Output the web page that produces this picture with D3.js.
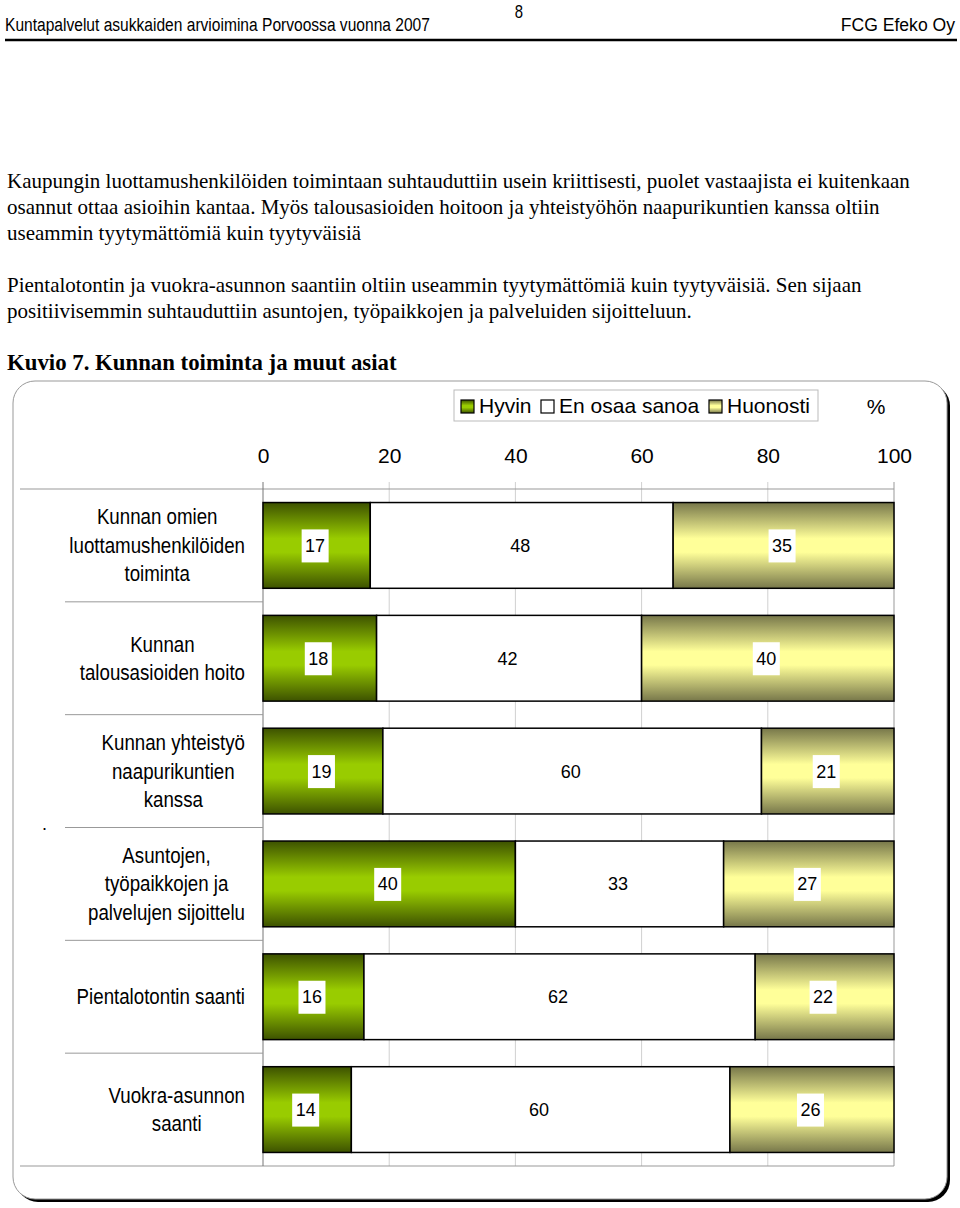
<!DOCTYPE html>
<html><head><meta charset="utf-8">
<script src="https://cdn.jsdelivr.net/npm/d3@7"></script>
<style>
body{margin:0;background:#fff;}
svg{display:block;}
</style></head>
<body>
<svg id="c" width="960" height="1208"></svg>
<script>
const categories = [
  ["Kunnan omien","luottamushenkilöiden","toiminta"],
  ["Kunnan","talousasioiden hoito"],
  ["Kunnan yhteistyö","naapurikuntien","kanssa"],
  ["Asuntojen,","työpaikkojen ja","palvelujen sijoittelu"],
  ["Pientalotontin saanti"],
  ["Vuokra-asunnon","saanti"]
];
const seriesNames = ["Hyvin","En osaa sanoa","Huonosti"];
const hyvin = [17,18,19,40,16,14];
const enOsaa = [48,42,60,33,62,60];
const huonosti = [35,40,21,27,22,26];
const tickValues = [0,20,40,60,80,100];

const headerLeft = "Kuntapalvelut asukkaiden arvioimina Porvoossa vuonna 2007";
const headerRight = "FCG Efeko Oy";
const pageNo = "8";
const bodyLines = [
  "Kaupungin luottamushenkilöiden toimintaan suhtauduttiin usein kriittisesti, puolet vastaajista ei kuitenkaan",
  "osannut ottaa asioihin kantaa. Myös talousasioiden hoitoon ja yhteistyöhön naapurikuntien kanssa oltiin",
  "useammin tyytymättömiä kuin tyytyväisiä",
  "",
  "Pientalotontin ja vuokra-asunnon saantiin oltiin useammin tyytymättömiä kuin tyytyväisiä. Sen sijaan",
  "positiivisemmin suhtauduttiin asuntojen, työpaikkojen ja palveluiden sijoitteluun."
];
const figTitle = "Kuvio 7. Kunnan toiminta ja muut asiat";

const svg = d3.select("#c");
const sans = "'Liberation Sans',Arial,sans-serif";
const serif = "'Liberation Serif','Times New Roman',serif";

// narrow text helper: Liberation Sans squeezed horizontally (Arial Narrow look-alike)
function ntext(parent, tx, ty, str, size, anchor, sx){
  return parent.append("text")
    .attr("transform",`translate(${tx},${ty}) scale(${sx},1)`)
    .attr("text-anchor",anchor||"start")
    .attr("font-family",sans).attr("font-size",size).text(str);
}

// defs gradients
const defs = svg.append("defs");
function vgrad(id, edge, mid){
  const g = defs.append("linearGradient").attr("id",id).attr("x1",0).attr("y1",0).attr("x2",0).attr("y2",1);
  [[0,edge],[0.42,mid],[0.58,mid],[1,edge]].forEach(([o,c])=>g.append("stop").attr("offset",o).attr("stop-color",c));
}
vgrad("gGreen","#3d5200","#99cc00");
vgrad("gYellow","#77774a","#ffff99");
const fills = ["url(#gGreen)","#ffffff","url(#gYellow)"];

// header
ntext(svg,5,31,headerLeft,19,"start",0.82);
ntext(svg,955,31,headerRight,19,"end",0.925);
ntext(svg,519,18,pageNo,17.5,"middle",0.85);
svg.append("line").attr("x1",5).attr("x2",957).attr("y1",40).attr("y2",40).attr("stroke","#000").attr("stroke-width",2.5);

// body
const bodyY = [188,214,240,266,292,318];
bodyLines.forEach((t,i)=>{
  if(!t) return;
  svg.append("text").attr("x",7).attr("y",bodyY[i]).attr("font-family",serif).attr("font-size",21).text(t);
});
svg.append("text").attr("x",7).attr("y",370).attr("font-family",serif).attr("font-size",22.8).attr("font-weight","bold").text(figTitle);

// frame
const fx=13, fy=381, fw=934, fh=818;
svg.append("rect").attr("x",fx+3).attr("y",fy+3).attr("width",fw).attr("height",fh).attr("rx",22).attr("fill","#000");
svg.append("rect").attr("x",fx).attr("y",fy).attr("width",fw).attr("height",fh).attr("rx",22).attr("fill","#fff").attr("stroke","#999").attr("stroke-width",1);

// scales
const x = d3.scaleLinear().domain([0,100]).range([263,894]);
const y = d3.scaleBand().domain(d3.range(categories.length)).range([489,1166]).paddingInner(0.24).paddingOuter(0.12);
const plotTop = 489, plotBottom = 1166;

// gridlines
svg.append("g").selectAll("line").data(tickValues.slice(1,-1)).join("line")
  .attr("x1",d=>x(d)).attr("x2",d=>x(d)).attr("y1",plotTop-7).attr("y2",plotBottom)
  .attr("stroke","#d0d0d0").attr("stroke-width",1);
// plot border
svg.append("line").attr("x1",20).attr("x2",x(100)).attr("y1",plotTop).attr("y2",plotTop).attr("stroke","#999");
svg.append("line").attr("x1",20).attr("x2",x(100)).attr("y1",plotBottom).attr("y2",plotBottom).attr("stroke","#999");
svg.append("line").attr("x1",x(100)).attr("x2",x(100)).attr("y1",plotTop-7).attr("y2",plotBottom).attr("stroke","#999");
svg.append("line").attr("x1",x(0)).attr("x2",x(0)).attr("y1",plotTop-7).attr("y2",plotBottom).attr("stroke","#777");

// top axis labels
const axis = d3.axisTop(x).tickValues(tickValues).tickSize(0).tickPadding(0);
const ag = svg.append("g").attr("transform",`translate(0,${plotTop})`).call(axis);
ag.select(".domain").remove();
ag.selectAll("text").attr("y",-26).attr("font-family",sans).attr("font-size",21).attr("fill","#000");

// category dividers
const step = y.step();
d3.range(1,categories.length).forEach(i=>{
  const yy = plotTop + i*step;
  svg.append("line").attr("x1",65).attr("x2",x(0)).attr("y1",yy).attr("y2",yy).attr("stroke","#999");
});
svg.append("text").attr("x",42).attr("y",830).attr("font-family",sans).attr("font-size",18).text(".");

// category labels (centred lines, block right-aligned)
const LSX = 0.87;
categories.forEach((lines,i)=>{
  const cy = y(i) + y.bandwidth()/2;
  const lh = 28.5;
  const g = svg.append("g");
  const ly = j => cy + (j-(lines.length-1)/2)*lh + 7.5;
  const ts = lines.map((l,j)=>ntext(g,0,ly(j),l,21.5,"middle",LSX));
  const maxW = d3.max(ts,t=>t.node().getComputedTextLength())*LSX;
  ts.forEach((t,j)=>t.attr("transform",`translate(${245 - maxW/2},${ly(j)}) scale(${LSX},1)`));
});

// stacked bars
const series = [hyvin,enOsaa,huonosti];
const rows = categories.map((c,i)=>{
  let acc=0;
  return series.map((s,k)=>{const d={i,k,x0:acc,x1:acc+s[i],v:s[i]}; acc+=s[i]; return d;});
}).flat();
svg.append("g").selectAll("rect").data(rows).join("rect")
  .attr("x",d=>x(d.x0)).attr("width",d=>x(d.x1)-x(d.x0))
  .attr("y",d=>y(d.i)).attr("height",y.bandwidth())
  .attr("fill",d=>fills[d.k]).attr("stroke","#000").attr("stroke-width",1.5);

// value labels
const lg = svg.append("g");
rows.forEach(d=>{
  const cx = (x(d.x0)+x(d.x1))/2 - 1.5, cy = y(d.i)+y.bandwidth()/2;
  lg.append("rect").attr("x",cx-13.5).attr("y",cy-16).attr("width",27).attr("height",33).attr("fill","#fff");
  lg.append("text").attr("x",cx).attr("y",cy+6.5).attr("text-anchor","middle").attr("font-family",sans).attr("font-size",18).text(d.v);
});

// legend
const leg = svg.append("g");
leg.append("rect").attr("x",454).attr("y",390).attr("width",364).attr("height",31).attr("fill","#fff").attr("stroke","#bbb");
const legX = [461,541,709];
seriesNames.forEach((n,k)=>{
  leg.append("rect").attr("x",legX[k]).attr("y",400).attr("width",13).attr("height",13).attr("fill",fills[k]).attr("stroke","#000").attr("stroke-width",1.2);
  leg.append("text").attr("x",legX[k]+18).attr("y",413).attr("font-family",sans).attr("font-size",21).text(n);
});
svg.append("text").attr("x",876).attr("y",414).attr("text-anchor","middle").attr("font-family",sans).attr("font-size",21).text("%");
</script>
</body></html>
